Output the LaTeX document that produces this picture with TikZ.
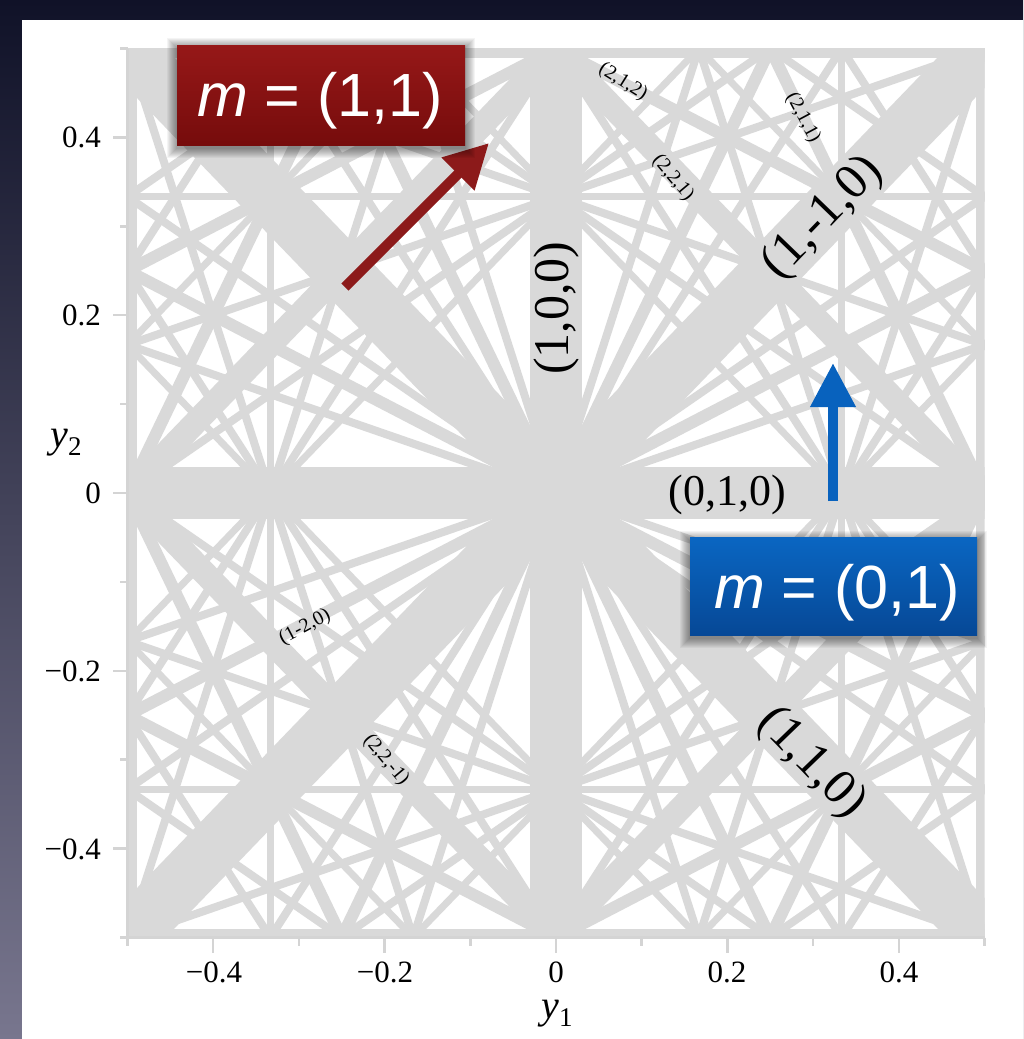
\documentclass[tikz,border=0pt]{standalone}
\usepackage{fontspec}
\setmainfont{Liberation Serif}
\newfontfamily\boxfont{Liberation Sans}
\usetikzlibrary{arrows.meta}
\definecolor{res}{RGB}{217,217,217}
\definecolor{axg}{RGB}{212,212,212}
\definecolor{redtop}{RGB}{150,24,24}
\definecolor{redbot}{RGB}{118,12,12}
\definecolor{bluetop}{RGB}{10,102,194}
\definecolor{bluebot}{RGB}{6,72,150}
\definecolor{redarrow}{RGB}{140,26,26}
\definecolor{bluearrow}{RGB}{8,98,190}
\definecolor{bgtop}{RGB}{16,18,40}
\definecolor{bgbot}{RGB}{120,118,142}
\tikzset{
  ticklab/.style={font=\fontsize{31}{31}\selectfont, inner sep=0pt},
  biglab/.style={font=\fontsize{50}{50}\selectfont, inner sep=0pt},
  smalllab/.style={font=\fontsize{20}{20}\selectfont, inner sep=0pt},
  mbox/.style={rectangle, inner sep=0pt},
  mtext/.style={text=white, inner sep=0pt, font=\boxfont\fontsize{61}{61}\selectfont},
  axline/.style={axg, line width=2.5pt},
  softshadow/.style={black, opacity=0.045},
}
\begin{document}
\begin{tikzpicture}[x=1pt,y=-1pt]
\useasboundingbox (0,0) rectangle (1023,1039);
% background
\shade[top color=bgtop,bottom color=bgbot] (0,0) rectangle (1023,1039);
\fill[white] (22,20) rectangle (1023,1039);

% resonance lines
\begin{scope}[shift={(556,493)}, x=857pt, y=889pt]
  \clip (-0.5,-0.5) rectangle (0.5,0.5);
  \foreach \a/\b/\c/\w in {
    1/0/0/52, 0/1/0/52, 1/1/0/55, 1/-1/0/55,
    2/0/1/18, 2/0/-1/18, 0/2/1/18, 0/2/-1/18,
    2/2/1/24, 2/2/-1/24, 2/-2/1/24, 2/-2/-1/24,
    2/1/0/12, 2/1/1/12, 2/1/-1/12, 2/-1/0/12, 2/-1/1/12, 2/-1/-1/12,
    1/2/0/12, 1/2/1/12, 1/2/-1/12, 1/-2/0/12, 1/-2/1/12, 1/-2/-1/12,
    3/0/1/7, 3/0/-1/7, 0/3/1/7, 0/3/-1/7,
    3/3/1/7, 3/3/-1/7, 3/-3/1/7, 3/-3/-1/7, 3/3/2/7, 3/3/-2/7, 3/-3/2/7, 3/-3/-2/7,
    3/1/0/8, 3/1/1/8, 3/1/-1/8, 3/-1/0/8, 3/-1/1/8, 3/-1/-1/8,
    1/3/0/8, 1/3/1/8, 1/3/-1/8, 1/-3/0/8, 1/-3/1/8, 1/-3/-1/8,
    3/2/0/8, 3/2/1/8, 3/2/-1/8, 3/2/2/8, 3/2/-2/8,
    3/-2/0/8, 3/-2/1/8, 3/-2/-1/8, 3/-2/2/8, 3/-2/-2/8,
    2/3/0/8, 2/3/1/8, 2/3/-1/8, 2/3/2/8, 2/3/-2/8,
    2/-3/0/8, 2/-3/1/8, 2/-3/-1/8, 2/-3/2/8, 2/-3/-2/8}{
    \pgfmathsetmacro\nn{(\a)*(\a)+(\b)*(\b)}
    \pgfmathsetmacro\px{(\a)*(\c)/\nn}
    \pgfmathsetmacro\py{(\b)*(\c)/\nn}
    \pgfmathsetmacro\dx{-2*(\b)/sqrt(\nn)}
    \pgfmathsetmacro\dy{2*(\a)/sqrt(\nn)}
    \draw[res, line width=\w pt] ({\px-(\dx)},{\py-(\dy)}) -- ({\px+(\dx)},{\py+(\dy)});
  }
\end{scope}

% axes and ticks
\draw[axline] (127.5,48.5) -- (127.5,937.5) -- (984.5,937.5);
\foreach \i in {-5,...,5}{
  \pgfmathsetmacro\L{mod(abs(\i),2)==0 ? 15 : 8}
  \pgfmathsetmacro\X{556+85.7*\i}
  \pgfmathsetmacro\Y{493-88.9*\i}
  \draw[axline] (\X,937.5) -- ++(0,\L);
  \draw[axline] (127.5,\Y) -- ++(-\L,0);
}

% tick labels
\node[ticklab, anchor=east] (yt4) at (101,137) {0.4};
\node[ticklab, anchor=east] (yt2) at (101,315) {0.2};
\node[ticklab, anchor=east] (yt0) at (101,493) {0};
\node[ticklab, anchor=east] (ytm2) at (101,671) {−0.2};
\node[ticklab, anchor=east] (ytm4) at (101,849) {−0.4};
\node[ticklab] (xtm4) at (214,972) {−0.4};
\node[ticklab] (xtm2) at (385,972) {−0.2};
\node[ticklab] (xt0) at (556,972) {0};
\node[ticklab] (xt2) at (727,972) {0.2};
\node[ticklab] (xt4) at (899,972) {0.4};
\node[inner sep=0pt, font=\fontsize{40}{40}\selectfont] (ylab) at (66,443) {\textit{y}\raisebox{-8pt}{\fontsize{27}{27}\selectfont 2}};
\node[inner sep=0pt, font=\fontsize{40}{40}\selectfont] (xlab) at (557,1014) {\textit{y}\raisebox{-8pt}{\fontsize{27}{27}\selectfont 1}};

% labels on resonances
\node[biglab, rotate=90] (l100) at (556,308) {(1,0,0)};
\node[inner sep=0pt, font=\fontsize{44}{44}\selectfont] (l010) at (727,495) {(0,1,0)};
\node[biglab, rotate=46] (l1m10) at (823,218) {(1,-1,0)};
\node[biglab, rotate=-46] (l110) at (811,763) {(1,1,0)};
\node[smalllab, rotate=-32] (l212) at (623,82) {(2,1,2)};
\node[smalllab, rotate=-62] (l211) at (803,118) {(2,1,1)};
\node[smalllab, rotate=-50] (l221) at (673,178) {(2,2,1)};
\node[smalllab, rotate=28] (l1m20) at (305,627) {(1-2,0)};
\node[smalllab, rotate=-50] (l22m1) at (386,760) {(2,2,-1)};

% arrows
\coordinate (rt) at (345,287);
\coordinate (rh) at (489,143);
\draw[redarrow, line width=10pt, -{Triangle[length=44pt,width=44pt]}] (rt) -- (rh);
\coordinate (bt) at (833,501);
\coordinate (bh) at (833,363);
\draw[bluearrow, line width=10pt, -{Triangle[length=44pt,width=43pt]}] (bt) -- (bh);

% box shadows
\foreach \s in {1,...,10}{
  \fill[softshadow] (177-\s,48-\s) rectangle (465+\s,148+\s);
  \fill[softshadow] (690-\s,541-\s) rectangle (977+\s,638+\s);
}
% boxes
\node[mbox, top color=redtop, bottom color=redbot, minimum width=288pt, minimum height=100pt] (redbox) at (321,95) {};
\node[mtext] (redtext) at (320,101) {\textit{m} = (1,1)};
\node[mbox, top color=bluetop, bottom color=bluebot, minimum width=287pt, minimum height=98pt] (bluebox) at (833.5,586.5) {};
\node[mtext] (bluetext) at (837,593) {\textit{m} = (0,1)};
\end{tikzpicture}
\end{document}
